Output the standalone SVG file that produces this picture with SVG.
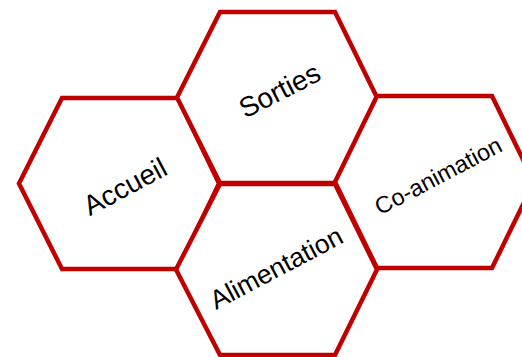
<svg xmlns="http://www.w3.org/2000/svg" width="522" height="357" viewBox="0 0 522 357">
<style>
.hex{fill:#ffffff;stroke:#c00000;stroke-width:4.5;stroke-linejoin:miter}
.lbl{font-family:"Liberation Sans",Arial,sans-serif;fill:#000000;text-anchor:middle}
</style>
<rect width="522" height="357" fill="#ffffff"/>
<g id="accueil">
<polygon class="hex" points="62,98 178,98 219,183.5 178,269 62,269 19,183.5"/>
<text class="lbl" x="129.5" y="195" font-size="28" transform="rotate(-28 129.5 195)">Accueil</text>
</g>
<g id="sorties">
<polygon class="hex" points="220,12 335,12 377,97.5 335,183 220,183 177,97.5"/>
<text class="lbl" x="284" y="99" font-size="28" transform="rotate(-27 284 99)">Sorties</text>
</g>
<g id="coanimation">
<polygon class="hex" points="377,96 492,96 534,182 492,268 377,268 335,182"/>
<text class="lbl" x="442" y="183" font-size="23.5" transform="rotate(-27.7 442 183)">Co-animation</text>
</g>
<g id="alimentation">
<polygon class="hex" points="220,184 335,184 377,269.5 335,355 220,355 176,269.5"/>
<text class="lbl" x="280.5" y="276" font-size="26.5" transform="rotate(-27.8 280.5 276)">Alimentation</text>
</g>
<g id="connectors"/>
</svg>
